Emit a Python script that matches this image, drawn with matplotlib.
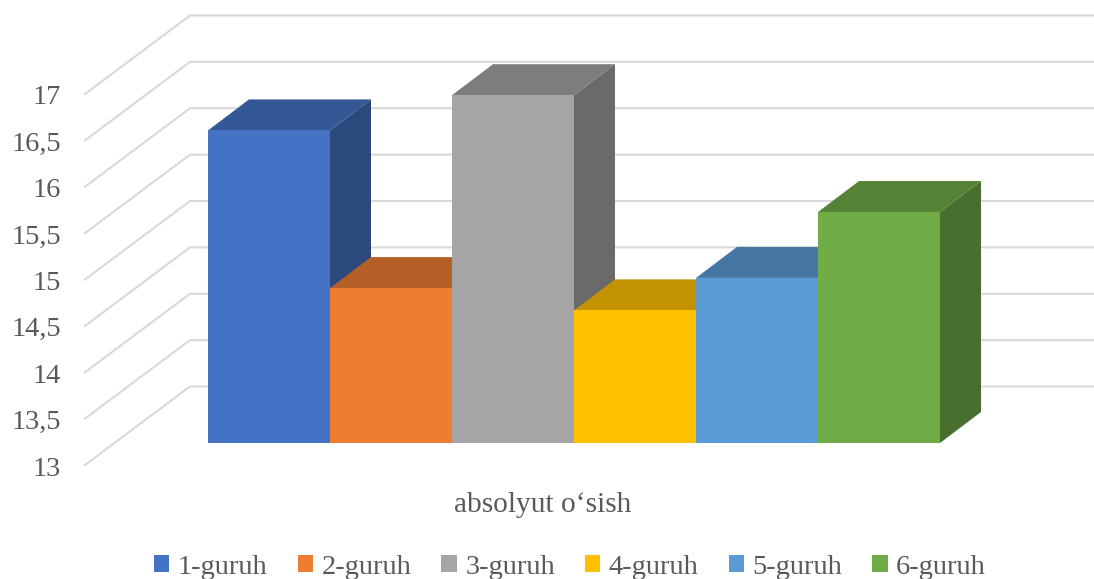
import matplotlib
matplotlib.use('Agg')
import matplotlib.pyplot as plt

plt.rcParams['font.family'] = ['Liberation Serif', 'DejaVu Serif']

# Data
groups = ['1-guruh', '2-guruh', '3-guruh', '4-guruh', '5-guruh', '6-guruh']
growth = [16.37, 14.67, 16.75, 14.43, 14.78, 15.49]
levels = [13, 13.5, 14, 14.5, 15, 15.5, 16, 16.5, 17]
level_labels = ['13', '13,5', '14', '14,5', '15', '15,5', '16', '16,5', '17']
colors = ['#4472C4', '#ED7D31', '#A5A5A5', '#FFC000', '#5B9BD5', '#70AD47']
xlabel = 'absolyut o\u2018sish'

W, H = 1094, 579
text_color = '#595959'
grid_color = '#D9D9D9'

# axes cover the front plane of the bars
fig = plt.figure(figsize=(W/100, H/100), dpi=100)
ax = fig.add_axes([208/W, (H-443)/H, 732/W, 371/H])
ax.set_xlim(0, 6)
ax.set_ylim(13, 17)
ax.axis('off')

px_x = 6/732       # data units per pixel
px_y = 4/371
bar_dx, bar_dy = 41*px_x, 31*px_y    # depth of one bar


def shade(hex_color, k):
    rgb = matplotlib.colors.to_rgb(hex_color)
    return tuple(c*k for c in rgb)


# gridlines: short diagonal on the floor side, then along the back wall
x_front = (85-208)*px_x
x_corner = (190-208)*px_x
x_end = (1094-208)*px_x
for lv, lab in zip(levels, level_labels):
    ax.plot([x_front, x_corner, x_end],
            [lv-22*px_y, lv+56.5*px_y, lv+56.5*px_y],
            color=grid_color, lw=1.5, clip_on=False, zorder=1,
            solid_joinstyle='miter')
    ax.annotate(lab, xy=(0, lv), xytext=(61-208, -26), textcoords='offset pixels',
                ha='right', va='center', fontsize=20.5, color=text_color)

# painted left to right so the next bar hides the side of the previous one
for i, v in enumerate(growth):
    z = 3 + i
    ax.bar(i+0.5, v-13, bottom=13, width=1, color=colors[i], label=groups[i],
           zorder=z+0.2, clip_on=False)
    ax.fill([i+1, i+1+bar_dx, i+1+bar_dx, i+1],
            [13, 13+bar_dy, v+bar_dy, v],
            color=shade(colors[i], 0.64), lw=0, zorder=z, clip_on=False)
    ax.fill([i, i+1, i+1+bar_dx, i+bar_dx],
            [v, v, v+bar_dy, v+bar_dy],
            color=shade(colors[i], 0.76), lw=0, zorder=z+0.1, clip_on=False)

fig.text(543/W, 1-505/H, xlabel, ha='center', va='center',
         fontsize=21.2, color=text_color)

fig.legend(loc='center', bbox_to_anchor=(570/W, 1-567/H), ncol=6, frameon=False,
           fontsize=20.5, labelcolor=text_color, handlelength=0.54, handleheight=0.54,
           handletextpad=0.3, columnspacing=1.05, borderpad=0, borderaxespad=0)

fig.savefig('out.png', dpi=100)
